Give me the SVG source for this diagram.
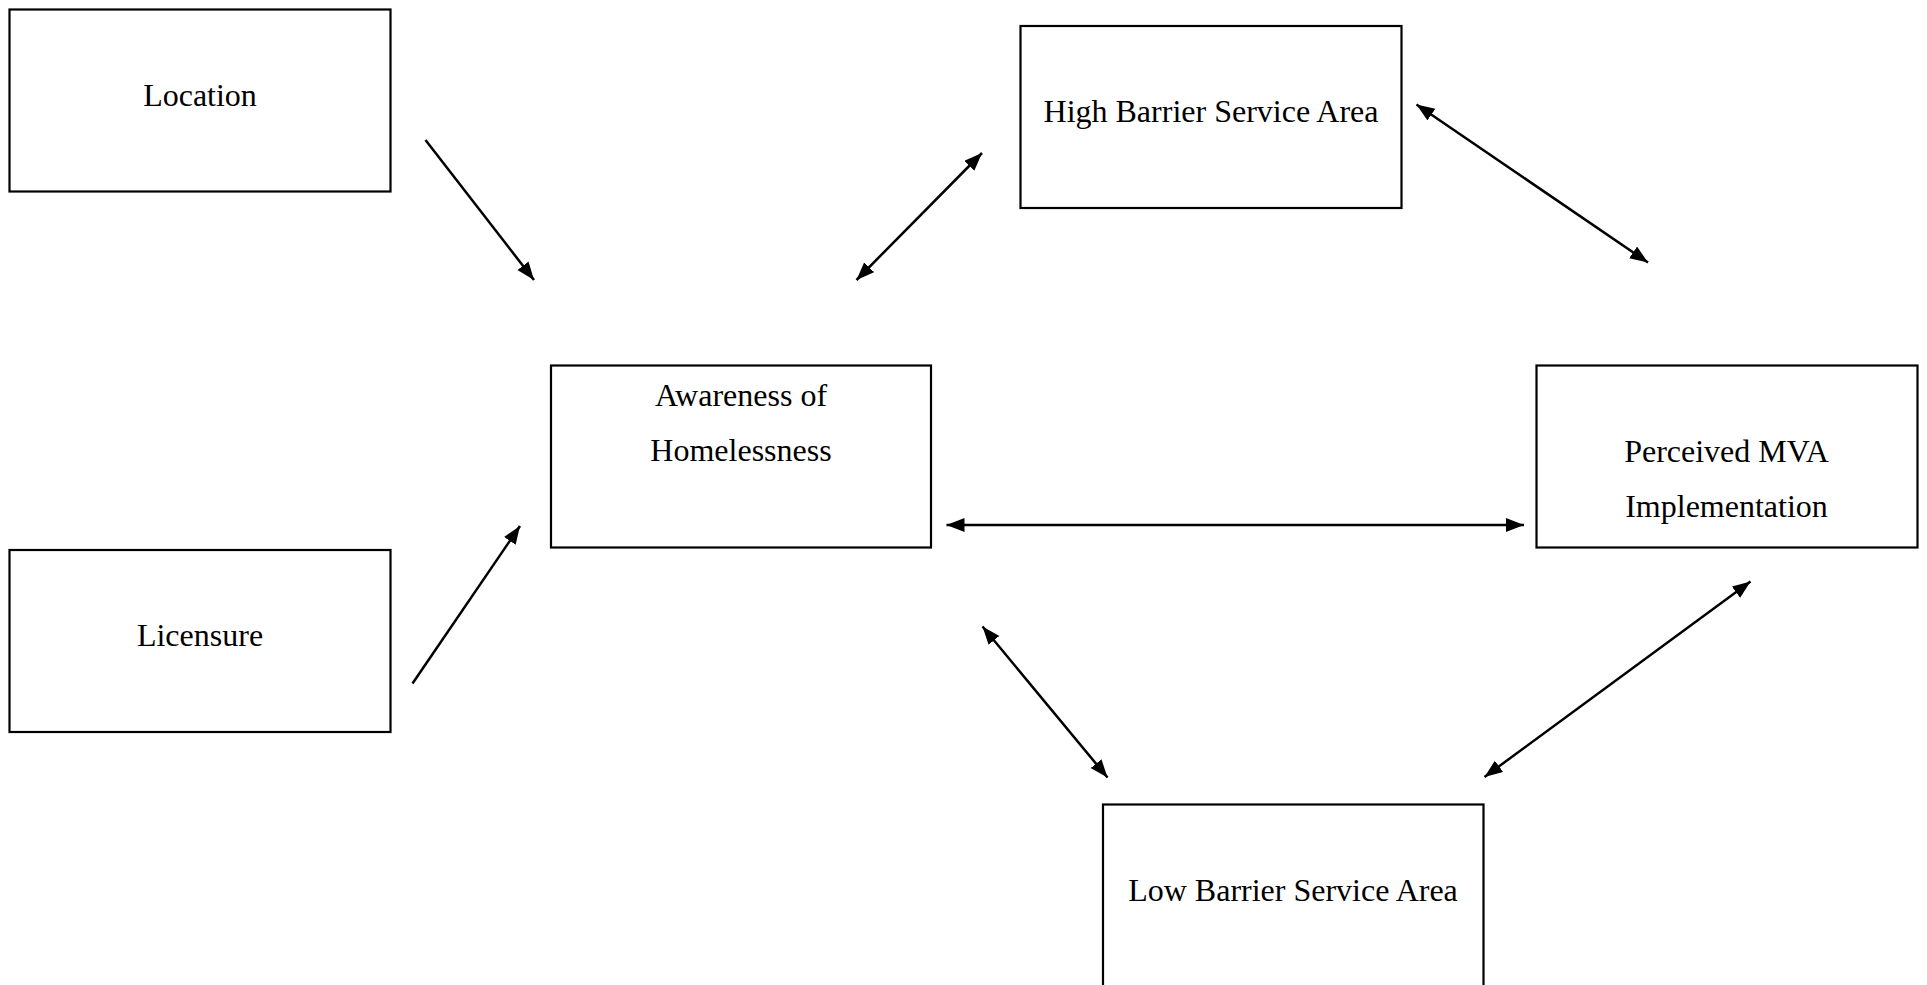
<svg xmlns="http://www.w3.org/2000/svg" width="1927" height="985" viewBox="0 0 1927 985">
<style>
.box{fill:#fff;stroke:#000;stroke-width:2.2}
.lbl{font-family:"Liberation Serif","Times New Roman",serif;font-size:32px;fill:#000;text-anchor:middle}
.con{stroke:#000;stroke-width:2.5;fill:none}
</style>
<defs>
<marker id="ah" markerUnits="userSpaceOnUse" markerWidth="20" markerHeight="16" refX="18" refY="7" orient="auto-start-reverse">
<path d="M0,0 L18,7 L0,14 z" fill="#000"/>
</marker>
</defs>
<rect width="1927" height="985" fill="#fff"/>
<g id="location">
<rect class="box" x="9.5" y="9.5" width="381" height="182"/>
<text class="lbl" x="200" y="106">Location</text>
</g>
<g id="licensure">
<rect class="box" x="9.5" y="550" width="381" height="182"/>
<text class="lbl" x="200" y="646">Licensure</text>
</g>
<g id="awareness">
<rect class="box" x="551" y="365.5" width="380" height="182"/>
<text class="lbl" x="741" y="405.5">Awareness of</text>
<text class="lbl" x="741" y="460.5">Homelessness</text>
</g>
<g id="high-barrier">
<rect class="box" x="1020.5" y="26" width="381" height="182"/>
<text class="lbl" x="1211" y="121.5">High Barrier Service Area</text>
</g>
<g id="perceived">
<rect class="box" x="1536.5" y="365.5" width="381" height="182"/>
<text class="lbl" x="1726.5" y="461.5">Perceived MVA</text>
<text class="lbl" x="1726.5" y="516.5">Implementation</text>
</g>
<g id="low-barrier">
<rect class="box" x="1103" y="804.5" width="380.5" height="220"/>
<text class="lbl" x="1293" y="901">Low Barrier Service Area</text>
</g>
<g id="connectors">
<line class="con" x1="425.5" y1="140" x2="534" y2="280" marker-end="url(#ah)"/>
<line class="con" x1="412.5" y1="683.5" x2="520" y2="526" marker-end="url(#ah)"/>
<line class="con" x1="856.5" y1="280" x2="982" y2="153" marker-start="url(#ah)" marker-end="url(#ah)"/>
<line class="con" x1="1416.5" y1="104.5" x2="1648" y2="262.5" marker-start="url(#ah)" marker-end="url(#ah)"/>
<line class="con" x1="946.5" y1="525" x2="1524" y2="525" marker-start="url(#ah)" marker-end="url(#ah)"/>
<line class="con" x1="982.5" y1="626.5" x2="1107.5" y2="777.5" marker-start="url(#ah)" marker-end="url(#ah)"/>
<line class="con" x1="1484.5" y1="777" x2="1750.5" y2="581.5" marker-start="url(#ah)" marker-end="url(#ah)"/>
</g>
</svg>
